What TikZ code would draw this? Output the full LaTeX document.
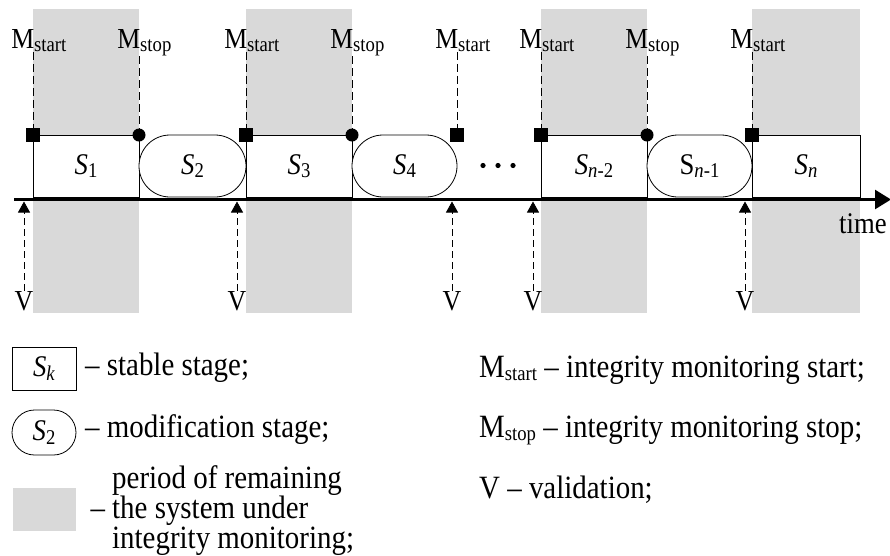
\documentclass[tikz,border=0pt]{standalone}
\usepackage{fontspec}
\setmainfont{Liberation Serif}[FakeStretch=0.89]
\usepackage{graphicx}
\usepackage{tikz}
\usetikzlibrary{positioning,arrows.meta,shapes.misc}
\definecolor{bandgray}{RGB}{217,217,217}
\newcommand{\dn}[1]{\raisebox{-0.12em}{\fontsize{21}{22}\selectfont #1}}
\newcommand{\Mlbl}[1]{\llap{M}\dn{#1}}

\begin{document}
\begin{tikzpicture}[x=1pt, y=-1pt,
    stable/.style={draw, fill=white, line width=0.8pt, rectangle, minimum width=106pt, minimum height=62pt,
        inner sep=0pt, outer sep=0pt, font=\fontsize{30}{34}\selectfont},
    modif/.style={stable, rounded rectangle},
    startmark/.style={fill, rectangle, minimum size=14pt, inner sep=0pt},
    stopmark/.style={fill, circle, minimum size=13pt, inner sep=0pt},
    mlbl/.style={anchor=base west, inner sep=0pt, font=\fontsize{29}{32}\selectfont},
    vlbl/.style={anchor=base, inner sep=0pt, font=\fontsize{29}{32}\selectfont},
    mline/.style={line width=0.8pt, dash pattern=on 8pt off 4pt},
    varrow/.style={line width=0.8pt, dash pattern=on 7pt off 4pt, shorten >=2pt,
        -{Triangle[length=11pt, width=12pt]}},
    legend/.style={anchor=base west, inner sep=0pt, font=\fontsize{32.5}{36}\selectfont}]
    \useasboundingbox (0,0) rectangle (890,555);

    % monitoring periods
    \fill[bandgray] (33,9) rectangle (139,313);
    \fill[bandgray] (246,9) rectangle (352,313);
    \fill[bandgray] (541,9) rectangle (647,313);
    \fill[bandgray] (752,9) rectangle (860,313);

    % stages
    \node[stable] (s1) at (86,166) {\textit{S}\dn{1}};
    \node[modif, minimum width=107pt, right=0pt of s1] (s2) {\textit{S}\dn{2}};
    \node[stable, right=0pt of s2] (s3) {\textit{S}\dn{3}};
    \node[modif, minimum width=105pt, right=0pt of s3] (s4) {\textit{S}\dn{4}};
    \fill (483,165.5) circle (2.6pt) (498,165.5) circle (2.6pt) (513,165.5) circle (2.6pt);
    \node[stable] (s6) at (594,166) {\textit{S}\dn{\textit{n}-2}};
    \node[modif, minimum width=105pt, right=0pt of s6] (s7) {S\dn{\textit{n}-1}};
    \node[stable, minimum width=108pt, right=0pt of s7] (s8) {\textit{S}\dn{\textit{n}}};

    % time axis
    \coordinate (t0) at (14,199.5);
    \coordinate (t1) at (891,199.5);
    \draw[line width=2.6pt, -{Triangle[length=16pt, width=19pt]}] (t0) -- (t1);
    \node[vlbl, anchor=base west, font=\fontsize{30}{34}\selectfont] (tm) at (839,233) {time};

    % monitoring marks
    \node[startmark] (q1) at (s1.north west) {};
    \node[stopmark] (c1) at (s1.north east) {};
    \node[startmark] (q2) at (s3.north west) {};
    \node[stopmark] (c2) at (s3.north east) {};
    \node[startmark] (q3) at (s4.east |- s4.north) {};
    \node[startmark] (q4) at (s6.north west) {};
    \node[stopmark] (c3) at (s6.north east) {};
    \node[startmark] (q5) at (s8.north west) {};

    \node[mlbl] (ma1) at (34,48) {\Mlbl{start}};
    \node[mlbl] (mo1) at (140,48) {\Mlbl{stop}};
    \node[mlbl] (ma2) at (247,48) {\Mlbl{start}};
    \node[mlbl] (mo2) at (353,48) {\Mlbl{stop}};
    \node[mlbl] (ma3) at (458,48) {\Mlbl{start}};
    \node[mlbl] (ma4) at (542,48) {\Mlbl{start}};
    \node[mlbl] (mo3) at (648,48) {\Mlbl{stop}};
    \node[mlbl] (ma5) at (753,48) {\Mlbl{start}};

    \draw[mline] (ma1.south west -| q1) -- (q1.center);
    \draw[mline] (mo1.south west -| c1) -- (c1.center);
    \draw[mline] (ma2.south west -| q2) -- (q2.center);
    \draw[mline] (mo2.south west -| c2) -- (c2.center);
    \draw[mline] (ma3.south west -| q3) -- (q3.center);
    \draw[mline] (ma4.south west -| q4) -- (q4.center);
    \draw[mline] (mo3.south west -| c3) -- (c3.center);
    \draw[mline] (ma5.south west -| q5) -- (q5.center);

    % validations
    \node[vlbl] (v1) at (24,310) {V};
    \node[vlbl] (v2) at (237,310) {V};
    \node[vlbl] (v3) at (452,310) {V};
    \node[vlbl] (v4) at (533,310) {V};
    \node[vlbl] (v5) at (745,310) {V};
    \draw[varrow] (v1.north) -- (v1.north |- t0);
    \draw[varrow] (v2.north) -- (v2.north |- t0);
    \draw[varrow] (v3.north) -- (v3.north |- t0);
    \draw[varrow] (v4.north) -- (v4.north |- t0);
    \draw[varrow] (v5.north) -- (v5.north |- t0);

    % legend
    \node[stable, minimum width=64pt, minimum height=43pt] (lk) at (44,368.5) {\textit{S}\dn{\textit{k}}};
    \node[legend] (lt1) at (85,375) {– stable stage;};
    \node[modif, minimum width=64pt, minimum height=45pt] (lm) at (44,432.5) {\textit{S}\dn{2}};
    \node[legend] (lt2) at (85,437) {– modification stage;};
    \fill[bandgray] (13,488) rectangle (76,531);
    \node[legend] (lt3) at (112,488) {\parbox[t]{300pt}{\fontsize{32.5}{27.5}\selectfont
        period of remaining\\\llap{– }the system under\\integrity monitoring;}};

    \node[legend] (lr1) at (479,377) {M\dn{start} – integrity monitoring start;};
    \node[legend] (lr2) at (479,437) {M\dn{stop} – integrity monitoring stop;};
    \node[legend] (lr3) at (479,498) {V – validation;};
\end{tikzpicture}
\end{document}
